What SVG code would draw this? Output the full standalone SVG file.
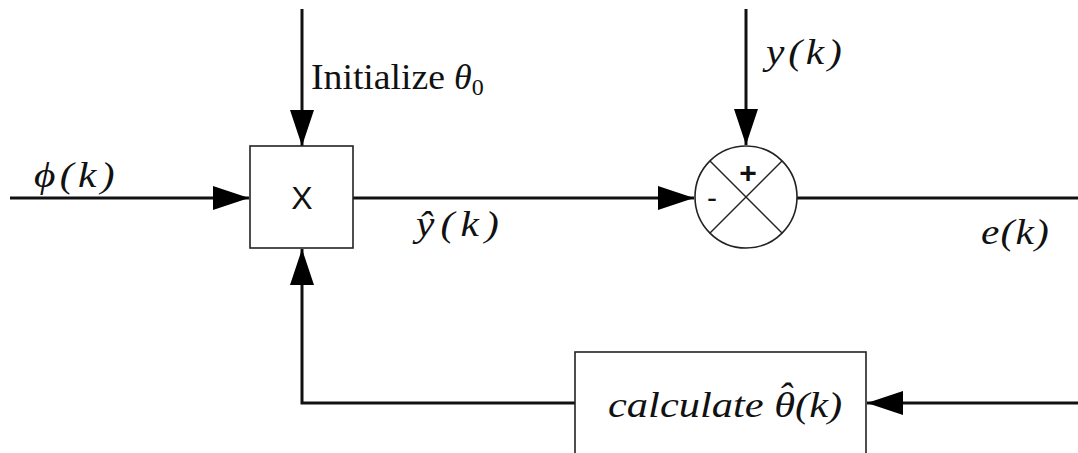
<svg xmlns="http://www.w3.org/2000/svg" width="1078" height="453" viewBox="0 0 1078 453">
<style>
.conn{fill:none;stroke:#111;stroke-width:3}
.node{fill:#fff;stroke:#222;stroke-width:1.6}
.thin{stroke:#222;stroke-width:1.4}
.math{font-family:"Liberation Serif","DejaVu Serif",serif;font-style:italic;fill:#111}
.rom{font-family:"Liberation Serif","DejaVu Serif",serif;fill:#111}
.sans{font-family:"Liberation Sans","DejaVu Sans",sans-serif;fill:#111}
</style>
<defs>
<marker id="ah" markerWidth="36" markerHeight="24" refX="36" refY="12" orient="auto" markerUnits="userSpaceOnUse">
<path d="M0,0 L36,12 L0,24 Z" fill="#000"/>
</marker>
</defs>
<rect width="1078" height="453" fill="#fff"/>
<g id="connectors">
<path class="conn" d="M10,198 H249" marker-end="url(#ah)"/>
<path class="conn" d="M302,9 V146" marker-end="url(#ah)"/>
<path class="conn" d="M353,198 H694" marker-end="url(#ah)"/>
<path class="conn" d="M746,9 V145" marker-end="url(#ah)"/>
<path class="conn" d="M797,198 H1078"/>
<path class="conn" d="M1078,403 H867" marker-end="url(#ah)"/>
<path class="conn" d="M575,403 H302 V249" marker-end="url(#ah)"/>
</g>
<g id="multiply">
<rect class="node" x="250" y="146" width="103" height="102"/>
<text class="sans" x="302" y="209" font-size="32" text-anchor="middle">X</text>
</g>
<g id="sum">
<circle class="node" cx="746" cy="197" r="51"/>
<line class="thin" x1="710" y1="161" x2="782" y2="233"/>
<line class="thin" x1="782" y1="161" x2="710" y2="233"/>
<text class="sans" x="748" y="183" font-size="30" font-weight="bold" text-anchor="middle">+</text>
<text class="sans" x="712" y="208" font-size="30" text-anchor="middle">-</text>
</g>
<g id="calculate">
<rect class="node" x="575" y="352" width="291" height="110"/>
<text class="math" font-size="36" transform="translate(608,417) scale(1.18,1)">calculate θ<tspan dx="-15" dy="-9">ˆ</tspan><tspan dx="3" dy="9">(k)</tspan></text>
</g>
<g id="labels">
<text class="math" font-size="36" transform="translate(34,187) scale(1.15,1)" textLength="70" lengthAdjust="spacing">ϕ(k)</text>
<text class="rom" x="311" y="89" font-size="36"><tspan textLength="134" lengthAdjust="spacingAndGlyphs">Initialize</tspan> <tspan class="math" font-size="36">θ</tspan><tspan font-size="24" dy="6">0</tspan></text>
<text class="math" font-size="36" transform="translate(766,64) scale(1.15,1)" textLength="66" lengthAdjust="spacing">y(k)</text>
<text class="math" font-size="36" transform="translate(416,236) scale(1.15,1)" textLength="72" lengthAdjust="spacing">ŷ(k)</text>
<text class="math" font-size="36" transform="translate(981,244) scale(1.15,1)" textLength="59" lengthAdjust="spacing">e(k)</text>
</g>
</svg>
